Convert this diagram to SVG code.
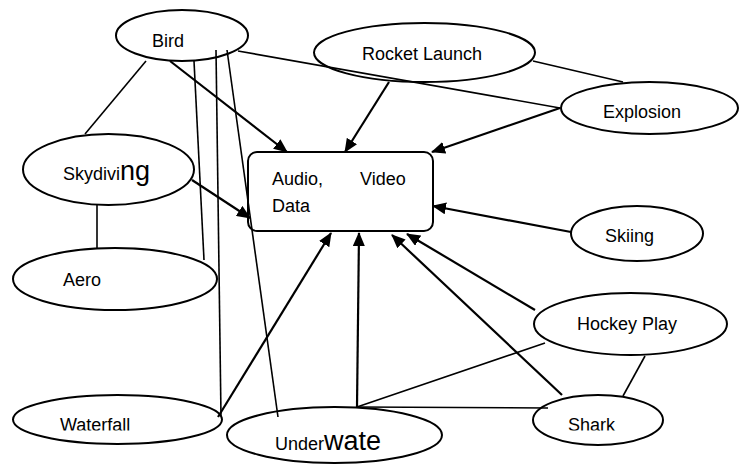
<svg xmlns="http://www.w3.org/2000/svg" width="746" height="466" viewBox="0 0 746 466">
<style>
.n{fill:#fff;stroke:#000;stroke-width:2}
.t{font-family:"Liberation Sans",Arial,sans-serif;font-size:18px;fill:#000}
.big{font-size:27px}
.a{stroke:#000;stroke-width:2.2;fill:none;marker-end:url(#ah)}
.l{stroke:#000;stroke-width:1.6;fill:none}
</style>
<defs>
<marker id="ah" markerUnits="userSpaceOnUse" markerWidth="14" markerHeight="12" refX="13" refY="6" orient="auto">
<path d="M0,0 L14,6 L0,12 z" fill="#000"/>
</marker>
<clipPath id="cw"><rect x="0" y="380" width="240" height="50.5"/></clipPath>
<clipPath id="cs"><rect x="540" y="400" width="130" height="30.5"/></clipPath>
</defs>
<rect width="746" height="466" fill="#fff"/>
<g id="bird"><ellipse class="n" cx="182" cy="35.5" rx="66" ry="25.5"/><text class="t" x="152" y="47">Bird</text></g>
<g id="rocket"><ellipse class="n" cx="424.5" cy="52.5" rx="110.5" ry="29.5"/><text class="t" x="362" y="60">Rocket Launch</text></g>
<g id="explosion"><ellipse class="n" cx="649.5" cy="108" rx="88.5" ry="26"/><text class="t" x="603" y="118">Explosion</text></g>
<g id="av"><rect class="n" x="248" y="152" width="185" height="79" rx="9"/><text class="t" x="272" y="185">Audio,</text><text class="t" x="360" y="185">Video</text><text class="t" x="272" y="212">Data</text></g>
<g id="skydiving"><ellipse class="n" cx="108.5" cy="169.5" rx="85.5" ry="35.5"/><text class="t" x="63" y="180">Skydivi<tspan class="big">ng</tspan></text></g>
<g id="aero"><ellipse class="n" cx="115" cy="279" rx="102" ry="31"/><text class="t" x="63" y="286">Aero</text></g>
<g id="skiing"><ellipse class="n" cx="637" cy="233.5" rx="66" ry="27.5"/><text class="t" x="605" y="242">Skiing</text></g>
<g id="hockey"><ellipse class="n" cx="630.5" cy="324" rx="96.5" ry="31"/><text class="t" x="577" y="330">Hockey Play</text></g>
<g id="waterfall"><ellipse class="n" cx="117.5" cy="419.5" rx="104.5" ry="24.5"/><text class="t" x="60" y="431" clip-path="url(#cw)">Waterfall</text></g>
<g id="underwater"><ellipse class="n" cx="334.5" cy="435" rx="107.5" ry="28"/><text class="t" x="275" y="450">Under<tspan class="big">wate</tspan></text></g>
<g id="shark"><ellipse class="n" cx="598" cy="420" rx="65" ry="25"/><text class="t" x="568" y="431" clip-path="url(#cs)">Shark</text></g>
<g id="connectors">
<line class="l" x1="146" y1="61" x2="85" y2="134"/>
<line class="l" x1="194" y1="61" x2="204" y2="260"/>
<line class="l" x1="216" y1="50" x2="221" y2="416"/>
<line class="l" x1="227" y1="50" x2="278" y2="417"/>
<line class="l" x1="238" y1="51" x2="560" y2="108"/>
<line class="l" x1="533" y1="61" x2="623" y2="82"/>
<line class="l" x1="97" y1="205" x2="97" y2="248"/>
<line class="l" x1="357" y1="407" x2="545" y2="343"/>
<line class="l" x1="357" y1="407" x2="548" y2="408"/>
<line class="l" x1="645" y1="356" x2="623" y2="396"/>
<line class="a" x1="170" y1="61" x2="287" y2="152"/>
<line class="a" x1="389" y1="82" x2="345" y2="152"/>
<line class="a" x1="560" y1="108" x2="432" y2="152"/>
<line class="a" x1="192" y1="180" x2="250" y2="218"/>
<line class="a" x1="571" y1="232" x2="433" y2="206"/>
<line class="a" x1="535" y1="310" x2="407" y2="234"/>
<line class="a" x1="562" y1="395" x2="392" y2="235"/>
<line class="a" x1="357" y1="407" x2="359" y2="233"/>
<line class="a" x1="218" y1="417" x2="331" y2="233"/>
</g>
</svg>
